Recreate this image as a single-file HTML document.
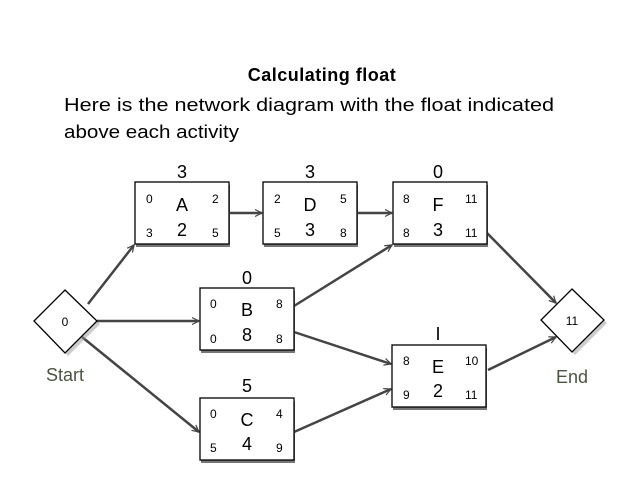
<!DOCTYPE html>
<html><head><meta charset="utf-8"><style>
html,body{margin:0;padding:0;background:#fff;}
svg{display:block;}
text{font-family:"Liberation Sans",sans-serif;}
</style></head><body>
<svg width="638" height="479" viewBox="0 0 638 479" xmlns="http://www.w3.org/2000/svg">
<defs>
<marker id="ar" markerWidth="8" markerHeight="8" refX="7" refY="4" orient="auto" markerUnits="userSpaceOnUse">
<path d="M0,0.5 L7,4 L0,7.5" fill="none" stroke="#444" stroke-width="1.2"/>
</marker>
</defs>
<text x="322" y="81" text-anchor="middle" font-size="18" font-weight="bold" letter-spacing="0.5">Calculating float</text>
<text x="64" y="111" font-size="18" textLength="490" lengthAdjust="spacingAndGlyphs">Here is the network diagram with the float indicated</text>
<text x="64" y="138" font-size="18" textLength="175" lengthAdjust="spacingAndGlyphs">above each activity</text>

<g stroke="#444" stroke-width="2.5" fill="none" marker-end="url(#ar)">
<line x1="88" y1="304" x2="134" y2="245"/>
<line x1="229" y1="213" x2="262" y2="213"/>
<line x1="357" y1="213" x2="392" y2="213"/>
<line x1="97" y1="321" x2="199" y2="321"/>
<line x1="82" y1="337" x2="199" y2="432"/>
<line x1="294" y1="306" x2="392" y2="245"/>
<line x1="294" y1="332" x2="391" y2="364"/>
<line x1="294" y1="432" x2="391" y2="389"/>
<line x1="487" y1="233" x2="556" y2="303"/>
<line x1="488" y1="370" x2="556" y2="337"/>
</g>

<g>
<polygon points="68,293 100,324 68,356 37,324" fill="#999" opacity="0.5"/>
<polygon points="65,290 97,321 65,353 34,321" fill="#fff" stroke="#000" stroke-width="1.3"/>
<text x="65" y="326" text-anchor="middle" font-size="12">0</text>
<text x="65" y="381" text-anchor="middle" font-size="18" fill="#4a5540">Start</text>
<polygon points="575,292 607,323 575,355 544,323" fill="#999" opacity="0.5"/>
<polygon points="572,289 604,320 572,352 541,320" fill="#fff" stroke="#000" stroke-width="1.3"/>
<text x="572" y="325" text-anchor="middle" font-size="12">11</text>
<text x="572" y="383" text-anchor="middle" font-size="18" fill="#4a5540">End</text>
</g>

<g font-size="12">
<!-- A -->
<rect x="136" y="185" width="94" height="62" fill="#777"/>
<rect x="135" y="182" width="94" height="62" fill="#fff" stroke="#000" stroke-width="1.3"/>
<text x="182" y="178" text-anchor="middle" font-size="18">3</text>
<text x="146" y="203">0</text><text x="212" y="203">2</text>
<text x="146" y="237">3</text><text x="212" y="237">5</text>
<text x="182" y="211" text-anchor="middle" font-size="18">A</text>
<text x="182" y="236" text-anchor="middle" font-size="18">2</text>
<!-- D -->
<rect x="264" y="185" width="94" height="62" fill="#777"/>
<rect x="263" y="182" width="94" height="62" fill="#fff" stroke="#000" stroke-width="1.3"/>
<text x="310" y="178" text-anchor="middle" font-size="18">3</text>
<text x="274" y="203">2</text><text x="340" y="203">5</text>
<text x="274" y="237">5</text><text x="340" y="237">8</text>
<text x="310" y="211" text-anchor="middle" font-size="18">D</text>
<text x="310" y="236" text-anchor="middle" font-size="18">3</text>
<!-- F -->
<rect x="394" y="185" width="94" height="62" fill="#777"/>
<rect x="393" y="182" width="94" height="62" fill="#fff" stroke="#000" stroke-width="1.3"/>
<text x="438" y="178" text-anchor="middle" font-size="18">0</text>
<text x="403" y="203">8</text><text x="465" y="203">11</text>
<text x="403" y="237">8</text><text x="465" y="237">11</text>
<text x="438" y="211" text-anchor="middle" font-size="18">F</text>
<text x="438" y="236" text-anchor="middle" font-size="18">3</text>
<!-- B -->
<rect x="201" y="291" width="94" height="62" fill="#777"/>
<rect x="200" y="288" width="94" height="62" fill="#fff" stroke="#000" stroke-width="1.3"/>
<text x="247" y="284" text-anchor="middle" font-size="18">0</text>
<text x="210" y="308">0</text><text x="276" y="308">8</text>
<text x="210" y="343">0</text><text x="276" y="343">8</text>
<text x="247" y="316" text-anchor="middle" font-size="18">B</text>
<text x="247" y="341" text-anchor="middle" font-size="18">8</text>
<!-- E -->
<rect x="393" y="348" width="94" height="62" fill="#777"/>
<rect x="392" y="345" width="94" height="62" fill="#fff" stroke="#000" stroke-width="1.3"/>
<text x="438" y="340" text-anchor="middle" font-size="18">I</text>
<text x="403" y="365">8</text><text x="465" y="365">10</text>
<text x="403" y="399">9</text><text x="465" y="399">11</text>
<text x="438" y="373" text-anchor="middle" font-size="18">E</text>
<text x="438" y="397" text-anchor="middle" font-size="18">2</text>
<!-- C -->
<rect x="201" y="401" width="94" height="62" fill="#777"/>
<rect x="200" y="398" width="94" height="62" fill="#fff" stroke="#000" stroke-width="1.3"/>
<text x="247" y="392" text-anchor="middle" font-size="18">5</text>
<text x="210" y="418">0</text><text x="276" y="418">4</text>
<text x="210" y="452">5</text><text x="276" y="452">9</text>
<text x="247" y="426" text-anchor="middle" font-size="18">C</text>
<text x="247" y="450" text-anchor="middle" font-size="18">4</text>
</g>
</svg>
</body></html>
